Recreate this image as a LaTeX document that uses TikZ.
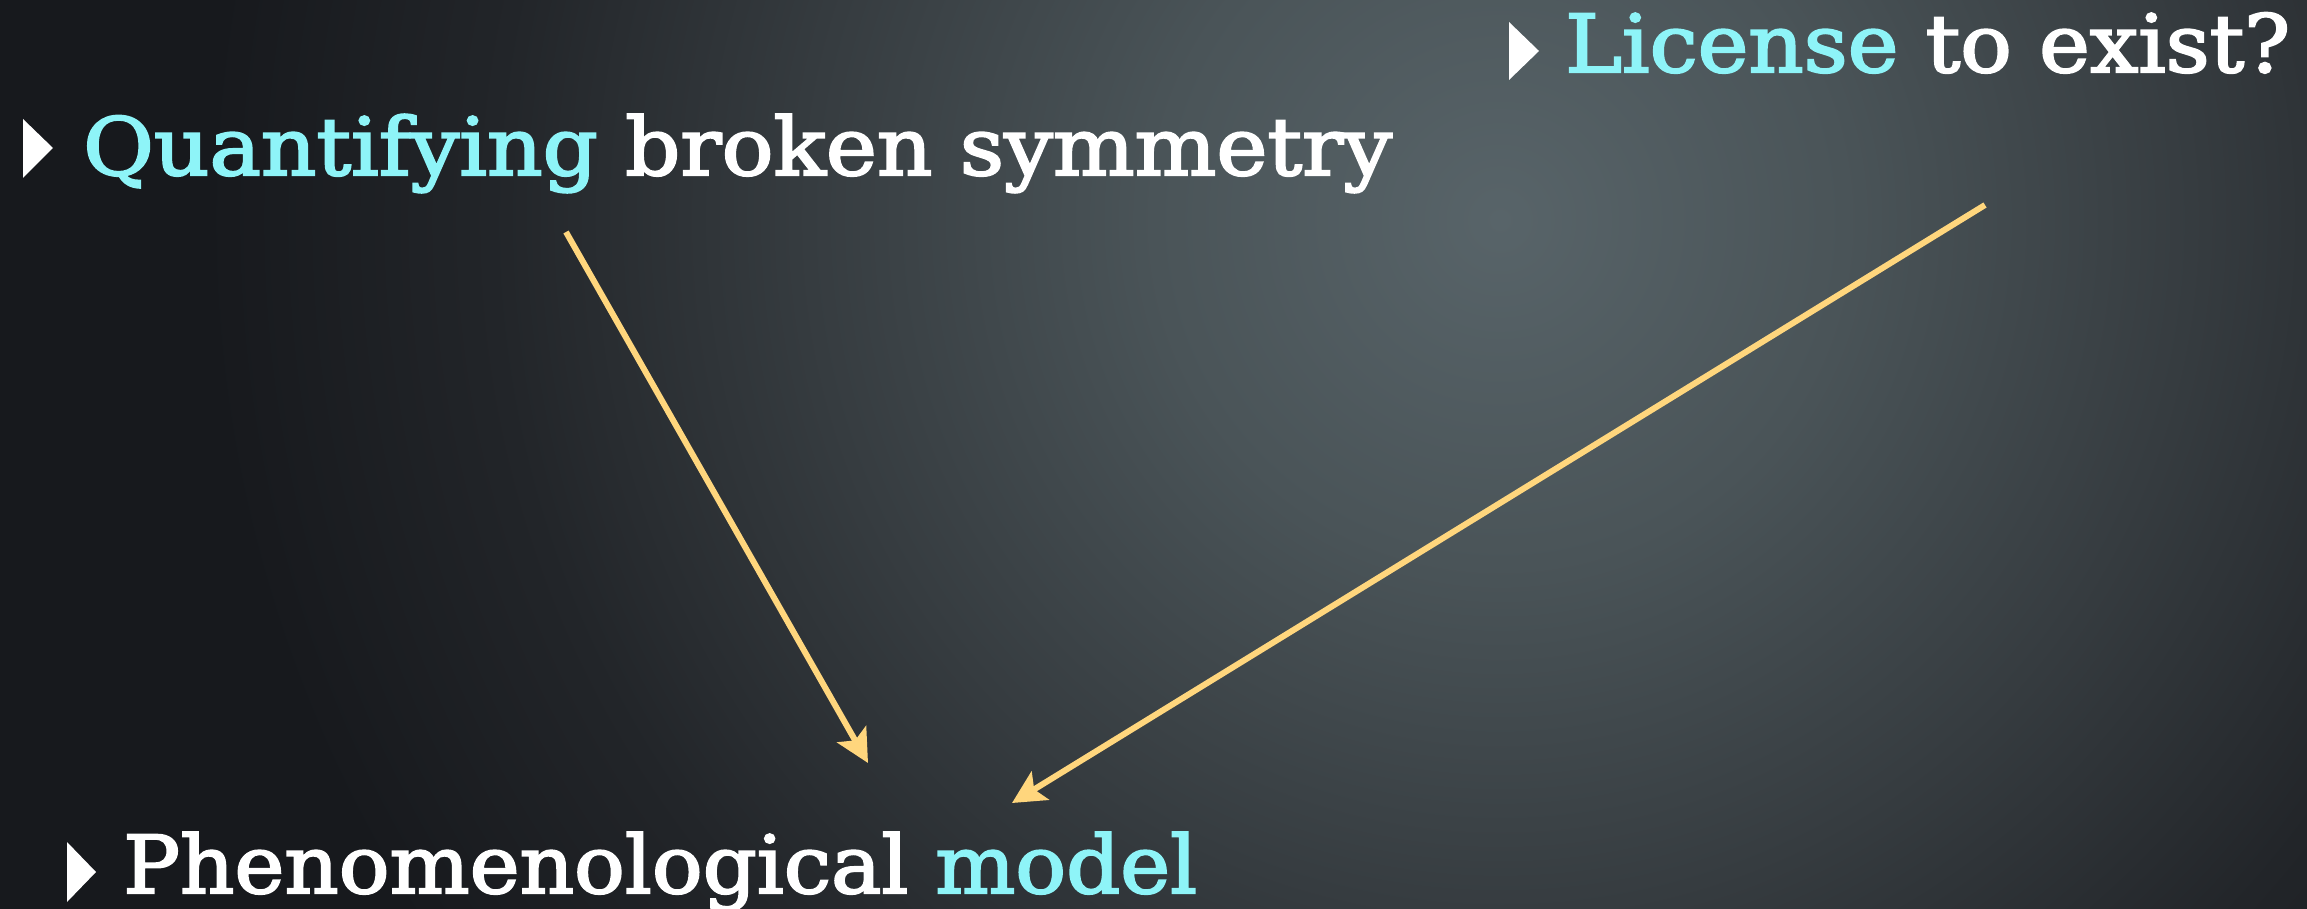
\documentclass[tikz,border=0pt]{standalone}
\usepackage{fontspec}
\setmainfont{DejaVu Serif}[UprightFeatures={FakeBold=2.5}]
\usetikzlibrary{arrows.meta}
\definecolor{cy}{RGB}{142,244,248}
\definecolor{arr}{RGB}{255,214,125}
\definecolor{bgA}{RGB}{88,100,105}
\definecolor{bgB}{RGB}{74,84,88}
\definecolor{bgC}{RGB}{54,60,64}
\definecolor{bgD}{RGB}{34,37,41}
\definecolor{bgE}{RGB}{23,25,29}
\pgfdeclareradialshading{bgshade}{\pgfpoint{0bp}{0bp}}{color(0bp)=(bgA); color(3.6bp)=(bgB); color(7.2bp)=(bgC); color(10.5bp)=(bgD); color(13.5bp)=(bgE); color(50bp)=(bgE)}
\tikzset{
  txt/.style={anchor=base west, inner sep=0pt, text=white, font=\fontsize{80}{90}\selectfont},
  bullet/.style={fill=white},
  link/.style={draw=arr, line width=6pt, -{Stealth[length=33pt,width=33pt,inset=7pt]}}
}
\begin{document}
\begin{tikzpicture}[x=1pt,y=-1pt]
\useasboundingbox (0,0) rectangle (2307,909);
\fill[bgE] (0,0) rectangle (2307,909);
\begin{scope}
\clip (0,0) rectangle (2307,909);
\shade[shading=bgshade] (1500,220) circle[radius=2400];
\end{scope}
% bullets
\fill[bullet] (23,119) -- (53,148) -- (23,178) -- cycle;
\fill[bullet] (1509,22) -- (1539,51) -- (1509,80) -- cycle;
\fill[bullet] (67,842) -- (96,872) -- (67,902) -- cycle;
% texts
\node[txt] (q) at (83,175) {\resizebox{1309pt}{\height}{\textcolor{cy}{Quantifying} broken symmetry}};
\node[txt] (l) at (1565,72) {\resizebox{725pt}{\height}{\textcolor{cy}{License} to exist?}};
\node[txt] (p) at (123,893) {\resizebox{1074pt}{\height}{Phenomenological \textcolor{cy}{model}}};
% arrows
\coordinate (a1s) at (566,232);
\coordinate (a1e) at (868,763);
\coordinate (a2s) at (1985,205);
\coordinate (a2e) at (1012,803);
\draw[link] (a1s) -- (a1e);
\draw[link] (a2s) -- (a2e);
\end{tikzpicture}
\end{document}
